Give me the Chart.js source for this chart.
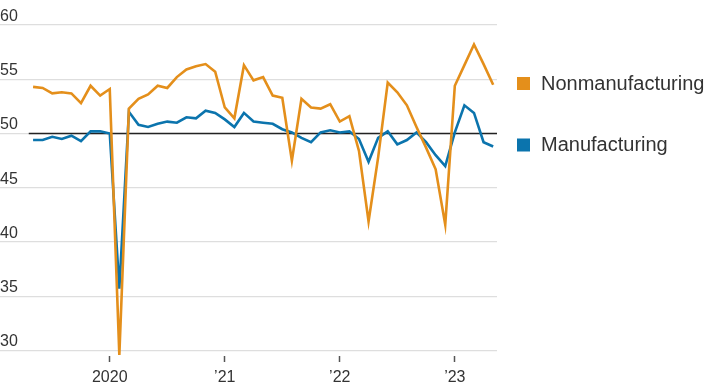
<!DOCTYPE html>
<html>
<head>
<meta charset="utf-8">
<script src="https://cdn.jsdelivr.net/npm/chart.js@4"></script>
<style>
  html, body { margin: 0; padding: 0; background: #ffffff; }
  #wrap { width: 708px; height: 389px; }
</style>
</head>
<body>
<div id="wrap"><canvas id="c" width="708" height="389"></canvas></div>
<script>
// Months from May 2019 to May 2023 (x = months relative to Jan 2020)
const firstMonth = -8;
const nonmanufacturing = [
  54.3, 54.2, 53.7, 53.8, 53.7, 52.8, 54.4, 53.5,
  54.1, 29.6, 52.3, 53.2, 53.6, 54.4, 54.2, 55.2, 55.9, 56.2, 56.4, 55.7,
  52.4, 51.4, 56.3, 54.9, 55.2, 53.5, 53.3, 47.5, 53.2, 52.4, 52.3, 52.7,
  51.1, 51.6, 48.4, 41.9, 47.8, 54.7, 53.8, 52.6, 50.6, 48.7, 46.7, 41.6,
  54.4, 56.3, 58.2, 56.4, 54.5
];
const manufacturing = [
  49.4, 49.4, 49.7, 49.5, 49.8, 49.3, 50.2, 50.2,
  50.0, 35.7, 52.0, 50.8, 50.6, 50.9, 51.1, 51.0, 51.5, 51.4, 52.1, 51.9,
  51.3, 50.6, 51.9, 51.1, 51.0, 50.9, 50.4, 50.1, 49.6, 49.2, 50.1, 50.3,
  50.1, 50.2, 49.5, 47.4, 49.6, 50.2, 49.0, 49.4, 50.1, 49.2, 48.0, 47.0,
  50.1, 52.6, 51.9, 49.2, 48.8
];
const seriesNames = ['Nonmanufacturing', 'Manufacturing'];
const yTicks = [30, 35, 40, 45, 50, 55, 60];
const xTickValues = [0, 12, 24, 36];
const xTickLabels = ['2020', '\u201921', '\u201922', '\u201923'];
const threshold = 50;

const ORANGE = '#e48f1b';
const BLUE = '#0b74ad';
const TICK_FONT = { family: '"Liberation Sans", Arial, sans-serif', size: 16 };

function toPoints(arr) {
  return arr.map((v, i) => ({ x: firstMonth + i, y: v }));
}

const thresholdPlugin = {
  id: 'threshold',
  beforeDatasetsDraw(chart) {
    const { ctx, chartArea, scales } = chart;
    const y = scales.y.getPixelForValue(threshold);
    const x0 = scales.x.getPixelForValue(firstMonth - 0.45);
    ctx.save();
    ctx.strokeStyle = '#222222';
    ctx.lineWidth = 1.5;
    ctx.beginPath();
    ctx.moveTo(x0, y);
    ctx.lineTo(chartArea.right, y);
    ctx.stroke();
    ctx.restore();
  }
};

const legendPlugin = {
  id: 'sideLegend',
  afterDraw(chart) {
    const { ctx, chartArea } = chart;
    const x = chartArea.right + 20;
    ctx.save();
    ctx.font = '20px "Liberation Sans", Arial, sans-serif';
    ctx.textBaseline = 'alphabetic';
    ctx.textAlign = 'left';
    chart.data.datasets.forEach((ds, i) => {
      const base = 89.5 + i * 61.5;
      ctx.fillStyle = ds.borderColor;
      ctx.fillRect(x, base - 12.5, 13, 13);
      ctx.fillStyle = '#333333';
      ctx.fillText(ds.label, x + 24, base);
    });
    ctx.restore();
  }
};

new Chart(document.getElementById('c'), {
  type: 'line',
  data: {
    datasets: [
      { label: seriesNames[0], data: toPoints(nonmanufacturing), borderColor: ORANGE, backgroundColor: ORANGE, borderWidth: 2.6, pointRadius: 0, tension: 0, fill: false },
      { label: seriesNames[1], data: toPoints(manufacturing), borderColor: BLUE, backgroundColor: BLUE, borderWidth: 2.6, pointRadius: 0, tension: 0, fill: false }
    ]
  },
  options: {
    responsive: false,
    animation: false,
    layout: { padding: { top: 25, right: 211, bottom: 0, left: 0 } },
    plugins: { legend: { display: false }, tooltip: { enabled: false } },
    scales: {
      x: {
        type: 'linear',
        min: -11.45,
        max: 40.4,
        border: { display: false },
        grid: { drawOnChartArea: false, drawTicks: true, tickLength: 6, tickColor: '#555555', tickWidth: 1.5 },
        afterBuildTicks(scale) { scale.ticks = xTickValues.map(v => ({ value: v })); },
        afterFit(scale) { scale.height = 33; },
        ticks: {
          autoSkip: false,
          maxRotation: 0,
          padding: 6,
          color: '#333333',
          font: TICK_FONT,
          callback(value) { const i = xTickValues.indexOf(value); return i >= 0 ? xTickLabels[i] : ''; }
        }
      },
      y: {
        type: 'linear',
        min: 29.5,
        max: 60,
        border: { display: false },
        grid: { color: '#dedede', lineWidth: 1.2, drawTicks: false },
        afterBuildTicks(scale) { scale.ticks = yTicks.map(v => ({ value: v })); },
        ticks: {
          mirror: true,
          padding: 0,
          labelOffset: -8.5,
          color: '#333333',
          font: TICK_FONT,
          callback(value) { return String(value); }
        }
      }
    }
  },
  plugins: [thresholdPlugin, legendPlugin]
});
</script>
</body>
</html>
